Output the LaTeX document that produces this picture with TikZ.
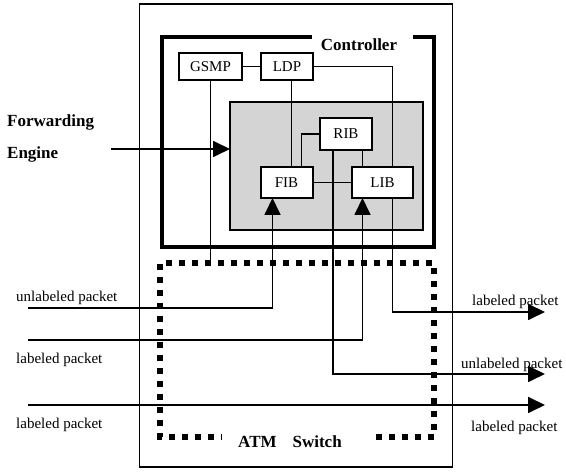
\documentclass[tikz,border=0pt]{standalone}
\usepackage{fontspec}
\setmainfont{Liberation Serif}
\usetikzlibrary{arrows.meta}
\begin{document}
\begin{tikzpicture}[x=1pt,y=-1pt,
  blk/.style={draw,line width=2pt,fill=white,inner sep=0pt,outer sep=0pt,font=\fontsize{15}{18}\selectfont},
  wire/.style={line width=1.8pt},
  arr/.style={line width=1.8pt,-{Triangle[length=17pt,width=16pt]}},
  lbl/.style={font=\fontsize{15}{18}\selectfont,inner sep=0pt,anchor=west},
  boldlbl/.style={font=\fontsize{17}{20}\selectfont\bfseries,inner sep=0pt}]
\useasboundingbox (0,0) rectangle (566,473);
\fill[white] (0,0) rectangle (566,473);

% outer ATM switch box
\node[draw,line width=1.5pt,minimum width=313pt,minimum height=463pt,inner sep=0pt,outer sep=0pt] (outer) at (296,235.5) {};

% controller
\node[boldlbl] (ctrl) at (359,45) {Controller};
\draw[line width=4.5pt,line join=miter] (312,37) -- (162,37) -- (162,247) -- (434,247) -- (434,37) -- (413,37);

% forwarding engine (shaded)
\node[draw,line width=2pt,fill=black!17,minimum width=193pt,minimum height=128pt,inner sep=0pt,outer sep=0pt] (fe) at (326.5,166) {};

% coordinates
\coordinate (fwd) at (111,149);
\coordinate (in1) at (28,308);
\coordinate (in2) at (28,340);
\coordinate (in3) at (28,405);
\coordinate (out1) at (545,312);
\coordinate (out2) at (545,374);
\coordinate (out3) at (545,405);
\coordinate (gend) at (210.5,263);

% boxes
\node[blk,minimum width=63pt,minimum height=27pt] (gsmp) at (210.5,66.5) {GSMP};
\node[blk,minimum width=52pt,minimum height=27pt] (ldp) at (287,66.5) {LDP};
\node[blk,minimum width=52pt,minimum height=32pt] (rib) at (346,134) {RIB};
\node[blk,minimum width=52pt,minimum height=31pt] (fib) at (286.5,182.5) {FIB};
\node[blk,minimum width=61pt,minimum height=31pt] (lib) at (382.5,182.5) {LIB};

% wires
\draw[wire] (gsmp.east) -- (ldp.west);
\draw[wire] (ldp.east) -| ([xshift=10pt]lib.north);
\draw[wire] ([xshift=4.5pt]ldp.south) -- ([xshift=4.5pt]ldp.south |- fib.north);
\draw[wire] (rib.west) -| ([xshift=15pt]fib.north);
\draw[wire] (fib.east) -- (lib.west);
\draw[wire] ([xshift=16.5pt]rib.south) -- ([xshift=16.5pt]rib.south |- lib.north);
\draw[wire] (gsmp.south) -- (gend);
\draw[arr] (fwd) -- (fwd -| fe.west);
\draw[arr] (in1) -| ([xshift=-14pt]fib.south);
\draw[arr] (in2) -| ([xshift=-20pt]lib.south);
\draw[arr] ([xshift=-13pt]rib.south) |- (out2);
\draw[arr] ([xshift=10pt]lib.south) |- (out1);
\draw[arr] (in3) -- (out3);

% redraw boxes on top
\node[blk,minimum width=63pt,minimum height=27pt] at (gsmp) {GSMP};
\node[blk,minimum width=52pt,minimum height=27pt] at (ldp) {LDP};
\node[blk,minimum width=52pt,minimum height=32pt] at (rib) {RIB};
\node[blk,minimum width=52pt,minimum height=31pt] at (fib) {FIB};
\node[blk,minimum width=61pt,minimum height=31pt] at (lib) {LIB};

% ATM switch dotted box
\node[boldlbl] (atm) at (290,442) {ATM\hspace{16pt}Switch};
\draw[line width=6pt,dash pattern=on 6pt off 7pt] (376,437) -- (434,437) -- (434,263) -- (160,263) -- (160,437) -- (222,437);

% labels
\node[boldlbl,anchor=west] (fwdl) at (7,122) {Forwarding};
\node[boldlbl,anchor=west] (engl) at (7,154) {Engine};
\node[lbl] (l1) at (16,298) {unlabeled packet};
\node[lbl] (l2) at (16,360) {labeled packet};
\node[lbl] (l3) at (16,425) {labeled packet};
\node[lbl] (r1) at (472,302) {labeled packet};
\node[lbl] (r2) at (461,365) {unlabeled packet};
\node[lbl] (r3) at (471,428) {labeled packet};
\end{tikzpicture}
\end{document}
